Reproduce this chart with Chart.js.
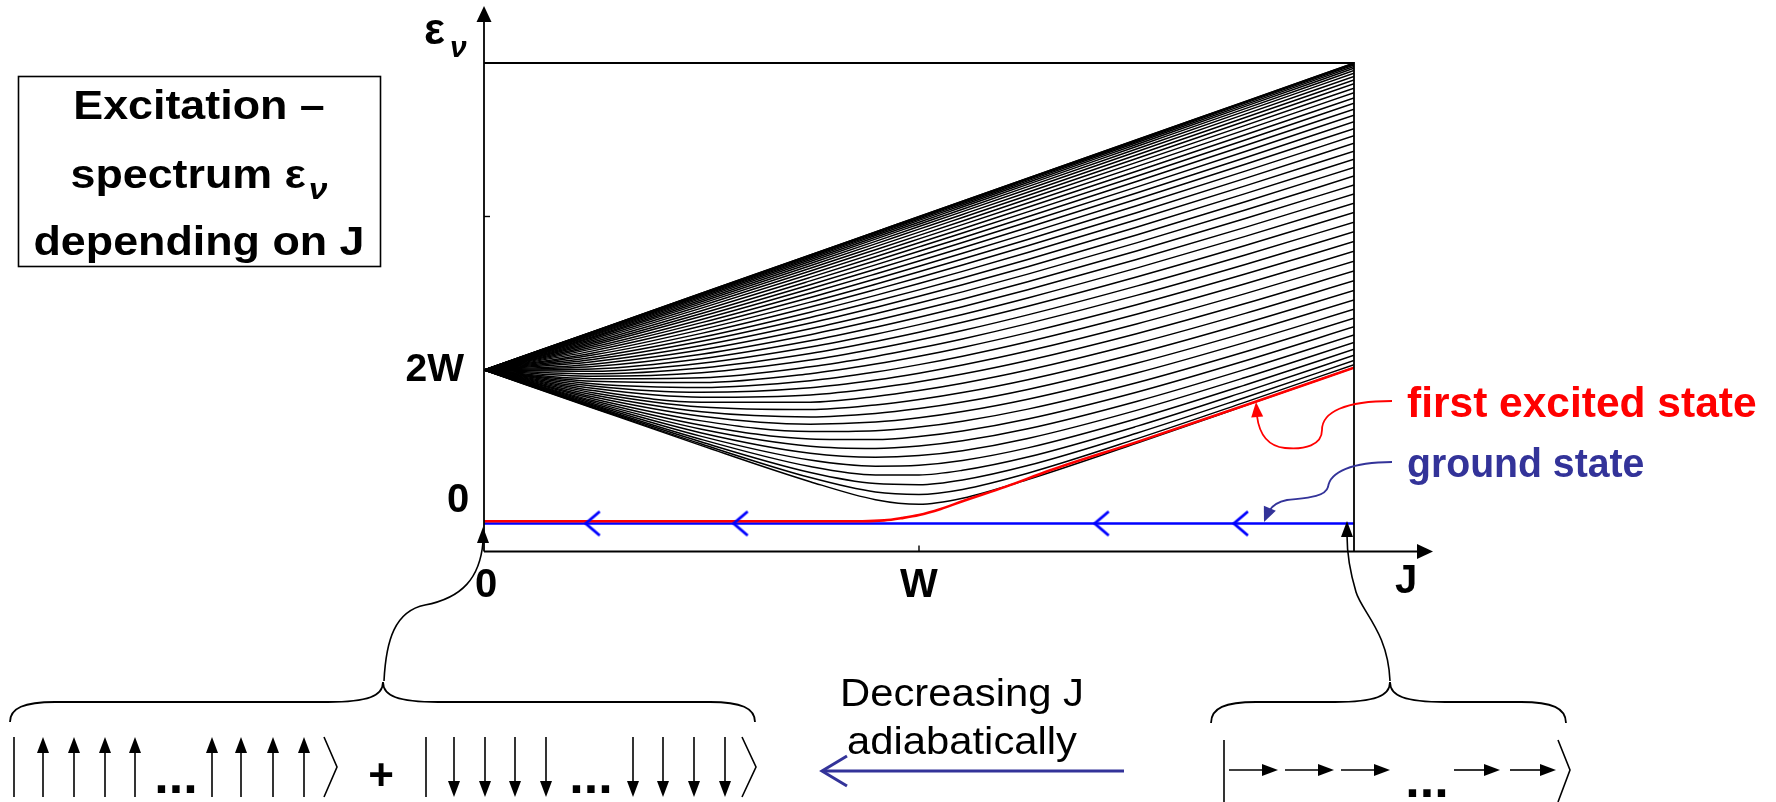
<!DOCTYPE html>
<html>
<head>
<meta charset="utf-8">
<script src="https://cdn.jsdelivr.net/npm/chart.js@4.4.0/dist/chart.umd.min.js"></script>
<style>
  html, body { margin: 0; padding: 0; background: #fff; }
</style>
</head>
<body>
<canvas id="spectrum" width="1776" height="802"></canvas>
<script>
// coupling J in units of W
const couplingJ = [0, 0.25, 0.5, 0.75, 0.9, 1.0, 1.1, 1.25, 1.5, 1.75, 2.0];

// excitation levels eps_v (units of W), one row per level, read at couplingJ
const excitationLevels = [
  [2, 1.505, 1.015, 0.545, 0.310, 0.250, 0.330, 0.573, 1.046, 1.536, 2.031],
  [2, 1.512, 1.035, 0.598, 0.410, 0.378, 0.444, 0.655, 1.102, 1.581, 2.070],
  [2, 1.521, 1.062, 0.665, 0.520, 0.505, 0.567, 0.755, 1.176, 1.642, 2.124],
  [2, 1.533, 1.095, 0.742, 0.633, 0.633, 0.693, 0.866, 1.265, 1.718, 2.191],
  [2, 1.547, 1.135, 0.826, 0.747, 0.759, 0.821, 0.985, 1.365, 1.805, 2.270],
  [2, 1.564, 1.180, 0.915, 0.863, 0.885, 0.949, 1.108, 1.474, 1.902, 2.359],
  [2, 1.583, 1.229, 1.007, 0.978, 1.009, 1.077, 1.234, 1.590, 2.008, 2.457],
  [2, 1.603, 1.281, 1.101, 1.093, 1.133, 1.205, 1.362, 1.711, 2.121, 2.563],
  [2, 1.626, 1.337, 1.197, 1.208, 1.256, 1.332, 1.490, 1.834, 2.238, 2.675],
  [2, 1.650, 1.396, 1.293, 1.321, 1.377, 1.458, 1.619, 1.961, 2.360, 2.791],
  [2, 1.676, 1.456, 1.389, 1.434, 1.497, 1.582, 1.746, 2.088, 2.484, 2.912],
  [2, 1.704, 1.518, 1.485, 1.545, 1.615, 1.706, 1.874, 2.216, 2.610, 3.036],
  [2, 1.732, 1.581, 1.581, 1.655, 1.732, 1.827, 1.999, 2.345, 2.738, 3.162],
  [2, 1.761, 1.645, 1.675, 1.763, 1.846, 1.947, 2.124, 2.473, 2.866, 3.289],
  [2, 1.792, 1.709, 1.769, 1.870, 1.959, 2.065, 2.247, 2.600, 2.995, 3.417],
  [2, 1.822, 1.773, 1.861, 1.974, 2.070, 2.180, 2.368, 2.726, 3.123, 3.546],
  [2, 1.854, 1.837, 1.952, 2.077, 2.179, 2.294, 2.487, 2.850, 3.250, 3.674],
  [2, 1.886, 1.900, 2.042, 2.177, 2.286, 2.405, 2.604, 2.972, 3.375, 3.801],
  [2, 1.918, 1.964, 2.129, 2.276, 2.390, 2.514, 2.718, 3.093, 3.499, 3.927],
  [2, 1.950, 2.026, 2.215, 2.372, 2.491, 2.621, 2.830, 3.211, 3.621, 4.052],
  [2, 1.982, 2.087, 2.299, 2.466, 2.591, 2.724, 2.939, 3.327, 3.741, 4.174],
  [2, 2.014, 2.147, 2.380, 2.557, 2.687, 2.825, 3.046, 3.440, 3.858, 4.294],
  [2, 2.045, 2.206, 2.460, 2.646, 2.781, 2.923, 3.149, 3.550, 3.973, 4.412],
  [2, 2.076, 2.263, 2.537, 2.732, 2.872, 3.018, 3.249, 3.656, 4.084, 4.527],
  [2, 2.107, 2.319, 2.611, 2.815, 2.960, 3.110, 3.346, 3.760, 4.193, 4.639],
  [2, 2.137, 2.374, 2.684, 2.895, 3.044, 3.199, 3.440, 3.860, 4.298, 4.747],
  [2, 2.166, 2.426, 2.753, 2.972, 3.126, 3.285, 3.531, 3.957, 4.399, 4.852],
  [2, 2.195, 2.477, 2.820, 3.047, 3.205, 3.367, 3.618, 4.050, 4.497, 4.954],
  [2, 2.222, 2.526, 2.884, 3.118, 3.280, 3.446, 3.701, 4.139, 4.591, 5.051],
  [2, 2.249, 2.572, 2.945, 3.186, 3.352, 3.521, 3.780, 4.225, 4.681, 5.144],
  [2, 2.275, 2.617, 3.004, 3.251, 3.420, 3.592, 3.856, 4.306, 4.766, 5.234],
  [2, 2.299, 2.659, 3.059, 3.312, 3.485, 3.660, 3.928, 4.383, 4.848, 5.319],
  [2, 2.322, 2.699, 3.111, 3.370, 3.546, 3.724, 3.996, 4.457, 4.925, 5.399],
  [2, 2.344, 2.737, 3.161, 3.424, 3.604, 3.785, 4.060, 4.525, 4.997, 5.475],
  [2, 2.365, 2.773, 3.207, 3.475, 3.657, 3.841, 4.120, 4.590, 5.065, 5.546],
  [2, 2.385, 2.806, 3.250, 3.523, 3.708, 3.894, 4.175, 4.650, 5.129, 5.612],
  [2, 2.403, 2.836, 3.289, 3.567, 3.754, 3.942, 4.227, 4.705, 5.187, 5.673],
  [2, 2.419, 2.865, 3.325, 3.607, 3.796, 3.987, 4.274, 4.756, 5.241, 5.729],
  [2, 2.434, 2.890, 3.358, 3.643, 3.835, 4.027, 4.316, 4.802, 5.290, 5.780],
  [2, 2.448, 2.913, 3.388, 3.676, 3.869, 4.063, 4.355, 4.843, 5.334, 5.826],
  [2, 2.460, 2.933, 3.414, 3.705, 3.900, 4.095, 4.389, 4.880, 5.373, 5.867],
  [2, 2.471, 2.951, 3.437, 3.730, 3.926, 4.123, 4.418, 4.912, 5.406, 5.902],
  [2, 2.480, 2.966, 3.456, 3.752, 3.949, 4.146, 4.443, 4.939, 5.435, 5.932],
  [2, 2.487, 2.978, 3.472, 3.769, 3.967, 4.166, 4.464, 4.961, 5.458, 5.956],
  [2, 2.493, 2.988, 3.484, 3.783, 3.982, 4.181, 4.480, 4.978, 5.477, 5.976],
  [2, 2.497, 2.995, 3.493, 3.792, 3.992, 4.191, 4.491, 4.990, 5.490, 5.989],
  [2, 2.499, 2.999, 3.498, 3.798, 3.998, 4.198, 4.498, 4.998, 5.497, 5.997],
  [2, 2.500, 3.000, 3.500, 3.800, 4.000, 4.200, 4.500, 5.000, 5.500, 6.000]
];

// first excited state (red)
const firstExcitedJ = [0, 0.87, 0.92, 0.96, 1.0, 1.05, 1.1, 1.2, 1.3, 1.5, 1.75, 2.0];
const firstExcitedE = [0.03, 0.03, 0.04, 0.07, 0.11, 0.19, 0.29, 0.48, 0.69, 1.06, 1.54, 2.03];

// ground state (blue) and the direction marks on it
const groundJ = [0, 2];
const groundE = [0, 0];
const chevronJ = [0.25, 0.59, 1.42, 1.74];

const tickJ = [1];
const tickE = [4];

// little "<" marker for the ground state line
const chevron = document.createElement('canvas');
chevron.width = 18;
chevron.height = 28;
(function () {
  const c = chevron.getContext('2d');
  c.strokeStyle = '#0000ff';
  c.lineWidth = 2.8;
  c.beginPath();
  c.moveTo(16, 2);
  c.lineTo(2, 14);
  c.lineTo(16, 26);
  c.stroke();
})();

const FONT = '"Liberation Sans", Arial, sans-serif';

function pts(xs, ys) {
  return xs.map((x, i) => ({ x: x, y: ys[i] }));
}

function line(ctx, p, color, w) {
  ctx.beginPath();
  ctx.moveTo(p[0][0], p[0][1]);
  for (let i = 1; i < p.length; i++) ctx.lineTo(p[i][0], p[i][1]);
  ctx.strokeStyle = color;
  ctx.lineWidth = w;
  ctx.stroke();
}

function head(ctx, x, y, ang, len, half, color) {
  ctx.save();
  ctx.translate(x, y);
  ctx.rotate(ang);
  ctx.beginPath();
  ctx.moveTo(0, 0);
  ctx.lineTo(-len, -half);
  ctx.lineTo(-len, half);
  ctx.closePath();
  ctx.fillStyle = color;
  ctx.fill();
  ctx.restore();
}

function text(ctx, str, x, y, font, color, align, sx) {
  ctx.save();
  ctx.translate(x, y);
  ctx.scale(sx || 1, 1);
  ctx.font = font;
  ctx.fillStyle = color;
  ctx.textAlign = align || 'left';
  ctx.textBaseline = 'alphabetic';
  ctx.fillText(str, 0, 0);
  ctx.restore();
}

// text with a subscript, centred as one piece
function textSub(ctx, str, sub, cx, y, font, subFont, dy, sx) {
  ctx.save();
  ctx.font = font;
  const w1 = ctx.measureText(str).width * sx;
  ctx.font = subFont;
  const w2 = ctx.measureText(sub).width * sx;
  ctx.restore();
  const x0 = cx - (w1 + w2 + 3) / 2;
  text(ctx, str, x0, y, font, '#000', 'left', sx);
  text(ctx, sub, x0 + w1 + 3, y + dy, subFont, '#000', 'left', sx);
}

function upArrow(ctx, x, y0, y1) {
  line(ctx, [[x, y0], [x, y1 + 14]], '#000', 1.6);
  head(ctx, x, y1, -Math.PI / 2, 16, 6, '#000');
}
function downArrow(ctx, x, y0, y1) {
  line(ctx, [[x, y0], [x, y1 - 14]], '#000', 1.6);
  head(ctx, x, y1, Math.PI / 2, 16, 6, '#000');
}
function rightArrow(ctx, x0, x1, y) {
  line(ctx, [[x0, y], [x1 - 14, y]], '#000', 1.6);
  head(ctx, x1, y, 0, 16, 6, '#000');
}

function brace(ctx, x0, x1, peakX, yEnd, yMid, yPeak) {
  ctx.beginPath();
  ctx.moveTo(x0, yEnd);
  ctx.bezierCurveTo(x0, yMid + 6, x0 + 14, yMid, x0 + 45, yMid);
  ctx.lineTo(peakX - 55, yMid);
  ctx.bezierCurveTo(peakX - 15, yMid, peakX, yMid - 6, peakX, yPeak);
  ctx.bezierCurveTo(peakX, yMid - 6, peakX + 15, yMid, peakX + 55, yMid);
  ctx.lineTo(x1 - 45, yMid);
  ctx.bezierCurveTo(x1 - 14, yMid, x1, yMid + 6, x1, yEnd);
  ctx.strokeStyle = '#000';
  ctx.lineWidth = 1.8;
  ctx.stroke();
}

const sketch = {
  id: 'sketch',
  afterDraw(chart) {
    const ctx = chart.ctx;
    const a = chart.chartArea;
    const xs = chart.scales.x;
    const ys = chart.scales.y;
    const bold = (s) => 'bold ' + s + 'px ' + FONT;
    ctx.save();
    ctx.lineCap = 'butt';

    // frame and axes
    line(ctx, [[a.left, a.top], [a.right, a.top], [a.right, a.bottom]], '#000', 1.8);
    line(ctx, [[a.left, a.bottom], [a.left, 21]], '#000', 1.8);
    head(ctx, a.left, 6, -Math.PI / 2, 16, 7.5, '#000');
    line(ctx, [[a.left, a.bottom], [1418, a.bottom]], '#000', 1.8);
    head(ctx, 1433, a.bottom, 0, 16, 7.5, '#000');
    tickJ.forEach(v => {
      const px = xs.getPixelForValue(v);
      line(ctx, [[px, a.bottom], [px, a.bottom - 6]], '#000', 1.4);
    });
    tickE.forEach(v => {
      const py = ys.getPixelForValue(v);
      line(ctx, [[a.left, py], [a.left + 6, py]], '#000', 1.4);
    });

    // axis labels
    text(ctx, 'ε', 424, 44, bold(44), '#000', 'left');
    text(ctx, 'ν', 450, 57, 'italic bold 30px ' + FONT, '#000', 'left');
    text(ctx, '2W', 464, ys.getPixelForValue(2) + 11, bold(39), '#000', 'right');
    text(ctx, '0', 458, ys.getPixelForValue(0) - 11, bold(40), '#000', 'center');
    text(ctx, '0', xs.getPixelForValue(0) + 2, 597, bold(40), '#000', 'center');
    text(ctx, 'W', xs.getPixelForValue(1), 597, bold(40), '#000', 'center');
    text(ctx, 'J', 1406, 593, bold(40), '#000', 'center');

    // title box
    ctx.strokeStyle = '#000';
    ctx.lineWidth = 1.6;
    ctx.strokeRect(18.5, 76.5, 362, 190);
    text(ctx, 'Excitation –', 199, 119, bold(40), '#000', 'center', 1.12);
    textSub(ctx, 'spectrum ε', 'ν', 199, 188, bold(40), 'italic bold 30px ' + FONT, 11, 1.12);
    text(ctx, 'depending on J', 199, 255, bold(40), '#000', 'center', 1.12);

    // state labels with pointers
    text(ctx, 'first excited state', 1407, 417, bold(42.5), '#ff0000', 'left');
    text(ctx, 'ground state', 1407, 477, bold(40), '#333399', 'left', 0.98);

    ctx.beginPath();
    ctx.moveTo(1392, 401);
    ctx.bezierCurveTo(1345, 401, 1322, 412, 1322, 430);
    ctx.bezierCurveTo(1322, 445, 1305, 450, 1285, 448);
    ctx.bezierCurveTo(1266, 446, 1259, 432, 1257, 416);
    ctx.strokeStyle = '#ff0000';
    ctx.lineWidth = 1.8;
    ctx.stroke();
    head(ctx, 1256, 402, -Math.PI / 2 - 0.08, 15, 6, '#ff0000');

    ctx.beginPath();
    ctx.moveTo(1392, 462);
    ctx.bezierCurveTo(1352, 462, 1330, 472, 1328, 487);
    ctx.bezierCurveTo(1325, 498, 1302, 498, 1287, 500);
    ctx.bezierCurveTo(1277, 502, 1272, 506, 1269, 511);
    ctx.strokeStyle = '#333399';
    ctx.lineWidth = 1.8;
    ctx.stroke();
    head(ctx, 1264, 522, Math.PI / 2 + 0.4, 15, 6.5, '#333399');

    // pointers from the spin states to the ends of the ground state
    ctx.beginPath();
    ctx.moveTo(384, 681);
    ctx.bezierCurveTo(386, 640, 395, 611, 425, 605);
    ctx.bezierCurveTo(462, 598, 480, 578, 483, 542);
    ctx.strokeStyle = '#000';
    ctx.lineWidth = 1.6;
    ctx.stroke();
    head(ctx, 483, 527, -Math.PI / 2, 16, 6, '#000');

    ctx.beginPath();
    ctx.moveTo(1390, 681);
    ctx.bezierCurveTo(1388, 632, 1362, 612, 1356, 592);
    ctx.bezierCurveTo(1350, 572, 1347, 552, 1347, 535);
    ctx.stroke();
    head(ctx, 1347, 521, -Math.PI / 2, 16, 6, '#000');

    // braces
    brace(ctx, 10, 755, 383, 722, 702, 682);
    brace(ctx, 1211, 1566, 1390, 723, 702, 682);

    // |up...up> + |down...down>
    line(ctx, [[14, 737], [14, 797]], '#000', 1.6);
    [43, 74, 105, 135, 212, 241, 273, 304].forEach(x => upArrow(ctx, x, 797, 737));
    text(ctx, '...', 176, 793, bold(52), '#000', 'center');
    line(ctx, [[324, 737], [337, 767], [324, 797]], '#000', 1.6);
    text(ctx, '+', 381, 790, bold(44), '#000', 'center');
    line(ctx, [[426, 737], [426, 797]], '#000', 1.6);
    [454, 485, 515, 546, 633, 663, 694, 725].forEach(x => downArrow(ctx, x, 737, 797));
    text(ctx, '...', 591, 793, bold(52), '#000', 'center');
    line(ctx, [[742, 737], [756, 767], [742, 797]], '#000', 1.6);

    // |-> -> ... ->>
    line(ctx, [[1224, 740], [1224, 802]], '#000', 1.6);
    [[1229, 1278], [1285, 1334], [1341, 1390], [1454, 1500], [1510, 1556]].forEach(p => rightArrow(ctx, p[0], p[1], 770));
    text(ctx, '...', 1427, 797, bold(52), '#000', 'center');
    line(ctx, [[1558, 740], [1570, 770], [1558, 802]], '#000', 1.6);

    // adiabatic arrow
    text(ctx, 'Decreasing J', 962, 706, '38px ' + FONT, '#000', 'center', 1.1);
    text(ctx, 'adiabatically', 962, 754, '38px ' + FONT, '#000', 'center', 1.1);
    line(ctx, [[823, 771], [1124, 771]], '#333399', 3);
    line(ctx, [[847, 756], [822, 771], [847, 786]], '#333399', 3);

    ctx.restore();
  }
};

const datasets = excitationLevels.map(row => ({
  data: pts(couplingJ, row),
  borderColor: '#000000',
  borderWidth: 1.5,
  pointRadius: 0,
  cubicInterpolationMode: 'monotone',
  order: 3
}));

datasets.push({
  data: pts(groundJ, groundE),
  borderColor: '#0000ff',
  borderWidth: 2.6,
  pointRadius: 0,
  order: 2
});

datasets.push({
  data: pts(firstExcitedJ, firstExcitedE),
  borderColor: '#ff0000',
  borderWidth: 2.6,
  pointRadius: 0,
  cubicInterpolationMode: 'monotone',
  order: 1
});

datasets.push({
  data: chevronJ.map(j => ({ x: j, y: 0 })),
  showLine: false,
  pointStyle: chevron,
  pointRadius: 9,
  order: 0
});

new Chart(document.getElementById('spectrum'), {
  type: 'line',
  data: { datasets: datasets },
  options: {
    responsive: false,
    animation: false,
    events: [],
    layout: { padding: { left: 484, right: 422, top: 63, bottom: 250.5 } },
    scales: {
      x: { type: 'linear', min: 0, max: 2, display: false },
      y: { type: 'linear', min: -0.365, max: 6.0, display: false }
    },
    plugins: {
      legend: { display: false },
      tooltip: { enabled: false }
    }
  },
  plugins: [sketch]
});
</script>
</body>
</html>
